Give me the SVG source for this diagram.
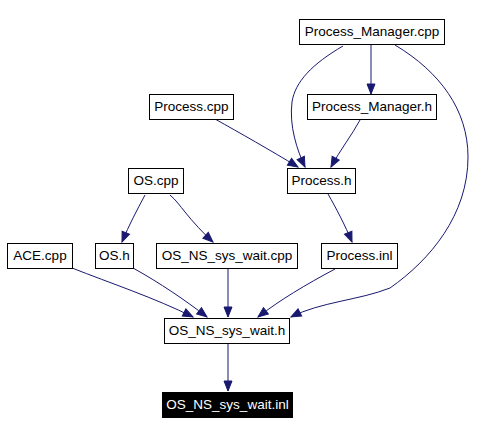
<svg xmlns="http://www.w3.org/2000/svg" width="500" height="435" viewBox="0 0 500 435">
<style>
.n rect{fill:#fff;stroke:#000;stroke-width:1}
.n text{font-family:"Liberation Sans",Arial,sans-serif;font-size:13.5px;text-anchor:middle;fill:#000}
.n.hl rect{fill:#000}
.n.hl text{fill:#fff}
.e path{fill:none;stroke:#191970;stroke-width:1;marker-end:url(#ah)}
</style>
<defs>
<marker id="ah" markerUnits="userSpaceOnUse" markerWidth="11" markerHeight="9" refX="10" refY="4" orient="auto" overflow="visible">
<path d="M0,0 L10,4 L0,8 Z" fill="#191970" stroke="#191970"/>
</marker>
</defs>
<rect width="500" height="435" fill="#fff"/>
<g id="edges" class="e">
<path d="M371,44 L371,94"/>
<path d="M343,46 C312,64 295,82 292,102 C289,126 297,150 305,167"/>
<path d="M360,120 C352,135 340,150 331,167"/>
<path d="M215,119 C240,133 270,150 298,167"/>
<path d="M395,45 C440,72 468,110 468,157 C468,215 430,260 390,288 C360,300 320,302 291,317"/>
<path d="M328,194 C336,208 345,225 352,242"/>
<path d="M335,269 C305,285 280,300 258,317"/>
<path d="M228,269 L228,317"/>
<path d="M145,195 C137,210 129,225 122,242"/>
<path d="M170,195 C176,200 180,206 185,212 C193,222 203,233 213,242"/>
<path d="M72,268 C110,283 155,298 193,317"/>
<path d="M133,268 C160,283 185,300 207,317"/>
<path d="M228,343 L228,391"/>
</g>
<g id="pm_cpp" class="n"><rect x="299.5" y="19.5" width="145" height="25"/><text x="372" y="36">Process_Manager.cpp</text></g>
<g id="pm_h" class="n"><rect x="307.5" y="94.5" width="129" height="25"/><text x="372" y="111">Process_Manager.h</text></g>
<g id="process_cpp" class="n"><rect x="149.5" y="94.5" width="84" height="25"/><text x="191.5" y="111">Process.cpp</text></g>
<g id="process_h" class="n"><rect x="287.5" y="168.5" width="68" height="25"/><text x="321.5" y="185">Process.h</text></g>
<g id="os_cpp" class="n"><rect x="128.5" y="168.5" width="55" height="25"/><text x="156" y="185">OS.cpp</text></g>
<g id="ace_cpp" class="n"><rect x="7.5" y="243.5" width="65" height="25"/><text x="40" y="260">ACE.cpp</text></g>
<g id="os_h" class="n"><rect x="95.5" y="243.5" width="38" height="25"/><text x="114.5" y="260">OS.h</text></g>
<g id="os_ns_sys_wait_cpp" class="n"><rect x="156.5" y="243.5" width="141" height="25"/><text x="227" y="260">OS_NS_sys_wait.cpp</text></g>
<g id="process_inl" class="n"><rect x="321.5" y="243.5" width="76" height="25"/><text x="359.5" y="260">Process.inl</text></g>
<g id="os_ns_sys_wait_h" class="n"><rect x="164.5" y="318.5" width="125" height="25"/><text x="227" y="335">OS_NS_sys_wait.h</text></g>
<g id="os_ns_sys_wait_inl" class="n hl"><rect x="162.5" y="392.5" width="130" height="25"/><text x="227.5" y="409">OS_NS_sys_wait.inl</text></g>
</svg>
